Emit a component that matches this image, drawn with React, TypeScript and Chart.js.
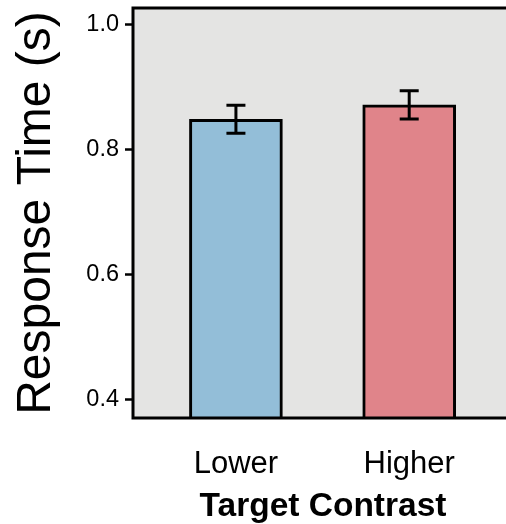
import React, { useEffect, useRef } from "react";
import { Chart, registerables } from "chart.js";

Chart.register(...registerables);

const categories = ["Lower", "Higher"];
const means = [0.849, 0.872];
const errors = [0.0225, 0.0226];
const barColors = ["#93BED8", "#E0848A"];
const yTicks = [0.4, 0.6, 0.8, 1.0];
const yMin = 0.371;
const yMax = 1.027;
const xMin = -0.594;
const xMax = 1.599;

const FONT = "'Liberation Sans', Arial, Helvetica, sans-serif";

const framePlugin = {
  id: "frame",
  beforeDatasetsDraw(chart: any) {
    const { ctx, chartArea: a } = chart;
    ctx.save();
    ctx.fillStyle = "#E4E4E3";
    ctx.fillRect(a.left, a.top, a.right - a.left, a.bottom - a.top);
    ctx.restore();
  },
  afterDatasetsDraw(chart: any) {
    const { ctx, chartArea: a, scales } = chart;
    const xs = scales.x;
    const ys = scales.y;
    ctx.save();
    ctx.strokeStyle = "#000";
    ctx.lineWidth = 3;
    ctx.lineCap = "butt";
    // error bars
    means.forEach((m, i) => {
      const x = xs.getPixelForValue(i);
      const yt = ys.getPixelForValue(m + errors[i]);
      const yb = ys.getPixelForValue(m - errors[i]);
      const hw = 9.5;
      ctx.beginPath();
      ctx.moveTo(x, yt);
      ctx.lineTo(x, yb);
      ctx.moveTo(x - hw, yt);
      ctx.lineTo(x + hw, yt);
      ctx.moveTo(x - hw, yb);
      ctx.lineTo(x + hw, yb);
      ctx.stroke();
    });
    // frame
    ctx.beginPath();
    ctx.moveTo(a.left, a.top - 1.5);
    ctx.lineTo(a.left, a.bottom + 1.5);
    ctx.moveTo(a.left - 1.5, a.top);
    ctx.lineTo(a.right + 1.5, a.top);
    ctx.moveTo(a.left - 1.5, a.bottom);
    ctx.lineTo(a.right + 1.5, a.bottom);
    ctx.moveTo(a.right, a.top - 1.5);
    ctx.lineTo(a.right, a.bottom + 1.5);
    ctx.stroke();
    ctx.restore();
  },
};

export default function App() {
  const ref = useRef<HTMLCanvasElement | null>(null);

  useEffect(() => {
    if (!ref.current) return;
    const chart = new Chart(ref.current, {
      type: "bar",
      data: {
        datasets: [
          {
            data: means.map((m, i) => ({ x: i, y: m })),
            backgroundColor: barColors,
            borderColor: "#000",
            borderWidth: 3,
            borderSkipped: "bottom",
            barThickness: 93,
          } as any,
        ],
      },
      options: {
        animation: false,
        responsive: false,
        devicePixelRatio: 1,
        layout: { padding: { left: 0, right: 0, top: 8, bottom: 0 } },
        plugins: { legend: { display: false }, tooltip: { enabled: false } },
        scales: {
          x: {
            type: "linear",
            min: xMin,
            max: xMax,
            offset: false,
            afterBuildTicks: (s: any) => {
              s.ticks = categories.map((_, i) => ({ value: i }));
            },
            afterFit: (s: any) => {
              s.height = 106;
              s.paddingLeft = 0;
              s.paddingRight = 0;
            },
            ticks: {
              callback: (v: any) => categories[Number(v)] ?? "",
              font: { family: FONT, size: 31 },
              color: "#000",
              padding: 20,
              autoSkip: false,
              maxRotation: 0,
            },
            grid: { display: false, offset: false },
            border: { display: false },
            title: {
              display: true,
              text: "Target Contrast",
              font: { family: FONT, size: 33.5, weight: "bold", lineHeight: 1 },
              color: "#000",
              padding: { top: 0, bottom: 0 },
            },
          } as any,
          y: {
            type: "linear",
            min: yMin,
            max: yMax,
            afterBuildTicks: (s: any) => {
              s.ticks = yTicks.map((v) => ({ value: v }));
            },
            afterFit: (s: any) => {
              s.width = 133;
              s.paddingTop = 0;
              s.paddingBottom = 0;
            },
            ticks: {
              callback: (v: any) => Number(v).toFixed(1),
              font: { family: FONT, size: 23.5 },
              color: "#000",
              padding: 6,
            },
            grid: {
              drawOnChartArea: false,
              drawTicks: true,
              tickLength: 8,
              tickWidth: 2.5,
              tickColor: "#000",
              color: "#000",
            },
            border: { display: false },
            title: {
              display: true,
              text: "Response Time (s)",
              font: { family: FONT, size: 48, lineHeight: 1 },
              color: "#000",
              padding: { top: 13, bottom: 0 },
            },
          } as any,
        },
      },
      plugins: [framePlugin],
    });
    return () => chart.destroy();
  }, []);

  return (
    <div
      style={{
        position: "absolute",
        left: 0,
        top: 0,
        width: 506,
        height: 524,
        overflow: "hidden",
        background: "#fff",
      }}
    >
      <canvas ref={ref} width={513} height={524} style={{ width: 513, height: 524, display: "block" }} />
    </div>
  );
}
